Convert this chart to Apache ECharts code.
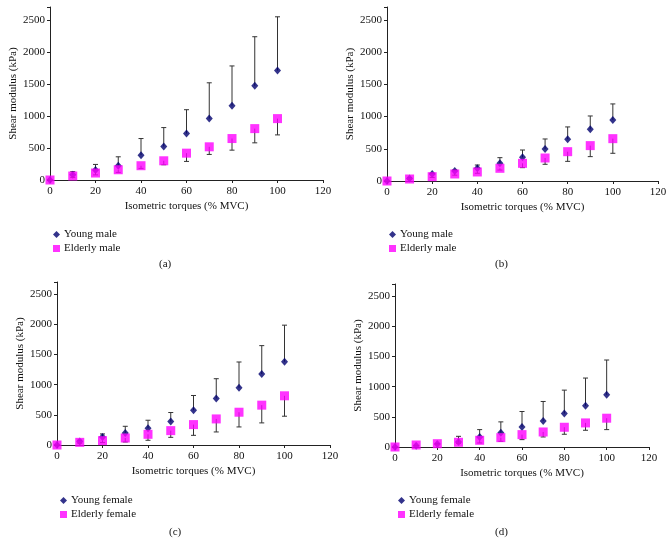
<!DOCTYPE html>
<html><head><meta charset="utf-8">
<script src="https://cdn.jsdelivr.net/npm/echarts@6/dist/echarts.min.js"></script>
<style>html,body{margin:0;padding:0;background:#fff}#c{width:672px;height:556px}</style>
</head><body><div id="c"></div>
<script>
var torques = [0,10,20,30,40,50,60,70,80,90,100];
var xTicks = [0,20,40,60,80,100,120];
var yTicks = [0,500,1000,1500,2000,2500];

var youngMale_a = [0,80,155,223,388,523,725,958,1160,1470,1708];
var youngMaleUpper_a = [0,130,243,362,647,818,1097,1517,1780,2236,2547];
var elderlyMale_a = [0,62,109,160,223,300,419,518,647,802,958];
var elderlyMaleLower_a = [0,40,80,119,181,238,290,399,466,580,704];

var youngMale_b = [0,40,109,155,197,274,367,497,647,802,947];
var youngMaleUpper_b = [0,50,120,171,248,362,481,652,839,1009,1196];
var elderlyMale_b = [0,31,67,109,140,197,274,357,455,549,657];
var elderlyMaleLower_b = [0,25,55,90,120,170,207,259,305,378,430];

var youngFemale_c = [0,60,133,200,277,388,576,770,948,1175,1380];
var youngFemaleUpper_c = [0,80,183,310,410,538,820,1098,1375,1646,1985];
var elderlyFemale_c = [0,44,72,116,177,238,338,432,543,660,815];
var elderlyFemaleLower_c = [0,30,40,50,78,127,160,216,299,366,477];

var youngFemale_d = [0,20,50,83,166,238,333,432,554,682,865];
var youngFemaleUpper_d = [0,25,60,177,288,416,588,754,942,1142,1441];
var elderlyFemale_d = [0,33,55,78,111,155,205,249,327,399,477];
var elderlyFemaleLower_d = [0,25,40,60,67,94,122,166,211,277,288];

var panelLabels = ['(a)','(b)','(c)','(d)'];
var xTitle = 'Isometric torques (% MVC)';
var yTitle = 'Shear modulus (kPa)';

var panels = [
  {young:'Young male', elderly:'Elderly male', y:youngMale_a, yEnd:youngMaleUpper_a, e:elderlyMale_a, eEnd:elderlyMaleLower_a,
   grid:{left:50,top:7,width:273,height:173}, legend:{left:48,top:224}, label:{x:167,y:266}},
  {young:'Young male', elderly:'Elderly male', y:youngMale_b, yEnd:youngMaleUpper_b, e:elderlyMale_b, eEnd:elderlyMaleLower_b,
   grid:{left:387,top:7,width:271,height:174}, legend:{left:384,top:224}, label:{x:503,y:266}},
  {young:'Young female', elderly:'Elderly female', y:youngFemale_c, yEnd:youngFemaleUpper_c, e:elderlyFemale_c, eEnd:elderlyFemaleLower_c,
   grid:{left:57,top:282,width:273,height:163}, legend:{left:55,top:490}, label:{x:177,y:534}},
  {young:'Young female', elderly:'Elderly female', y:youngFemale_d, yEnd:youngFemaleUpper_d, e:elderlyFemale_d, eEnd:elderlyFemaleLower_d,
   grid:{left:395,top:284,width:254,height:163}, legend:{left:393,top:490}, label:{x:503,y:534}}
];

var FONT = 'Liberation Serif';
var NAVY = '#00006e';
var MAG = '#ff00ff';

function errBar(api){
  var x = api.value(0), m = api.value(1), e = api.value(2);
  var p1 = api.coord([x,m]), p2 = api.coord([x,e]);
  var cw = 2.5;
  return {type:'group', children:[
    {type:'line', shape:{x1:p1[0],y1:p1[1],x2:p2[0],y2:p2[1]}, style:{stroke:'#333',lineWidth:1}},
    {type:'line', shape:{x1:p2[0]-cw,y1:p2[1],x2:p2[0]+cw,y2:p2[1]}, style:{stroke:'#333',lineWidth:1}}
  ]};
}

var option = {animation:false, backgroundColor:'#fff', grid:[], xAxis:[], yAxis:[], series:[], legend:[], graphic:[]};
panels.forEach(function(p,i){
  option.grid.push(Object.assign({containLabel:false}, p.grid));
  option.xAxis.push({type:'value', gridIndex:i, min:0, max:120, interval:20,
    axisLine:{onZero:false, lineStyle:{color:'#222',width:1}}, axisTick:{show:true,length:3,inside:false,lineStyle:{color:'#222'}},
    splitLine:{show:false}, axisLabel:{color:'#111',fontFamily:FONT,fontSize:11,margin:6,
      formatter:function(v){return xTicks.indexOf(v)>=0?String(v):'';}},
    name:xTitle, nameLocation:'middle', nameGap:21, nameTextStyle:{color:'#111',fontFamily:FONT,fontSize:11}});
  option.yAxis.push({type:'value', gridIndex:i, min:0, max:2700, interval:500,
    axisLine:{show:true, lineStyle:{color:'#222',width:1}}, axisTick:{show:true,length:3,lineStyle:{color:'#222'}},
    splitLine:{show:false}, axisLabel:{color:'#111',fontFamily:FONT,fontSize:11,margin:5,
      formatter:function(v){return yTicks.indexOf(v)>=0?String(v):'';}},
    name:yTitle, nameLocation:'middle', nameGap:31, nameRotate:90, nameTextStyle:{color:'#111',fontFamily:FONT,fontSize:11}});
  var yb = torques.map(function(x,k){return [x,p.y[k],p.yEnd[k]];});
  var eb = torques.map(function(x,k){return [x,p.e[k],p.eEnd[k]];});
  option.series.push({type:'custom', xAxisIndex:i, yAxisIndex:i, renderItem:function(params,api){return errBar(api);}, data:yb, encode:{x:0,y:[1,2]}, z:2, silent:true});
  option.series.push({type:'scatter', name:p.young, xAxisIndex:i, yAxisIndex:i, symbol:'diamond', symbolSize:[7,8],
    itemStyle:{color:NAVY}, data:torques.map(function(x,k){return [x,p.y[k]];}), z:3});
  option.series.push({type:'custom', xAxisIndex:i, yAxisIndex:i, renderItem:function(params,api){return errBar(api);}, data:eb, encode:{x:0,y:[1,2]}, z:4, silent:true});
  option.series.push({type:'scatter', name:p.elderly, xAxisIndex:i, yAxisIndex:i, symbol:'rect', symbolSize:9,
    itemStyle:{color:MAG}, data:torques.map(function(x,k){return [x,p.e[k]];}), z:5});
  option.legend.push({left:p.legend.left, top:p.legend.top, orient:'vertical', itemGap:3, itemWidth:7, itemHeight:7,
    textStyle:{fontFamily:FONT,fontSize:11,color:'#111',padding:[0,0,0,-1]}, selectedMode:false,
    data:[{name:p.young, icon:'diamond', itemStyle:{color:NAVY}},{name:p.elderly, icon:'rect', itemStyle:{color:MAG}}]});
  option.graphic.push({type:'text', left:p.label.x-8, top:p.label.y-7, style:{text:panelLabels[i], font:'11px "Liberation Serif"', fill:'#111'}});
});
echarts.init(document.getElementById('c')).setOption(option);
</script></body></html>
